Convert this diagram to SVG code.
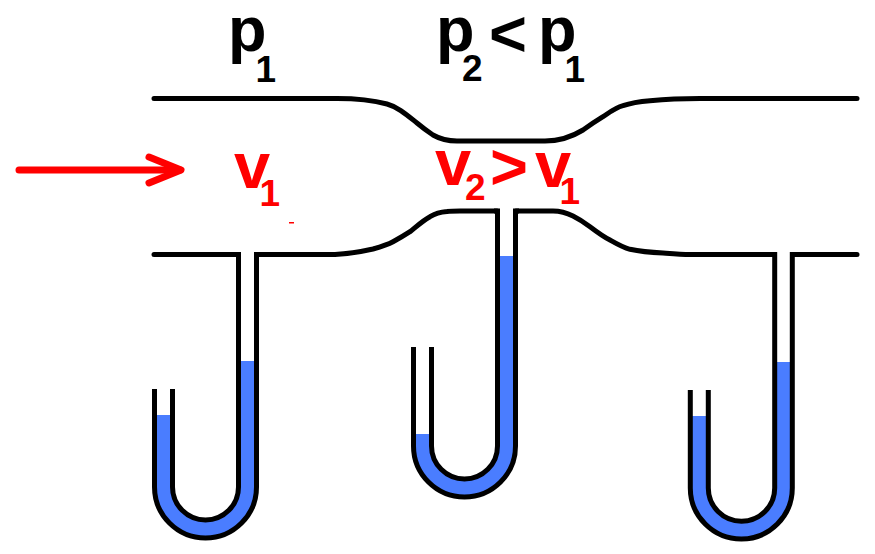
<svg xmlns="http://www.w3.org/2000/svg" width="875" height="554" viewBox="0 0 875 554">
<style>
.w{fill:#4a7dff;stroke:none}
.l{fill:none;stroke:#000;stroke-width:5;stroke-linecap:butt;stroke-linejoin:miter}
.c{fill:none;stroke:#000;stroke-width:5;stroke-linecap:round;stroke-linejoin:round}
.a{fill:none;stroke:#f00;stroke-width:7;stroke-linecap:round;stroke-linejoin:round}
text{font-family:"Liberation Sans",Arial,sans-serif;font-weight:700}
.k{fill:#000}.r{fill:#f00}
.b{font-size:65px}.p{font-size:63px}.s{font-size:37px}
</style>
<rect width="875" height="554" fill="#fff"/>
<g id="channel">
<path class="c" d="M154 98.500H337C355 98.500 372 100 387 104C398 107 407 115 417 123C423 128 427 131 433 135C440 139 448 141 457 141H545C557 141 570 138 583 130C590 125 596 121 603 116.700C610 112 616 107.500 623 105.700C632 102.500 640 101.500 650 100.700C668 99 685 98.500 700 98.500H857"/>
<path class="c" d="M154 254.500H238"/>
<path class="c" d="M257 254.500H335C348 254 362 251.500 373 249C380 247 387 245 393 241.700C400 238 405 235 410 231.700C417 226 423 220.500 430 216.700C436 213 441 212 447 211.500C451 211 455 211 460 211H497"/>
<path class="c" d="M516 211H553C560 211 567 213 573 216C580 219.500 585 223 590 226.700C597 232 603 236.500 610 240C617 244 623 247.500 630 249.300C640 251.500 651 252.500 663 253C672 253.700 681 254.500 690 254.500H774"/>
<path class="c" d="M793 254.500H857"/>
</g>
<g id="tube-1">
<path class="w" d="M156 415H171V487A34.500 34.500 0 0 0 240 487V361H255V487A49.500 49.500 0 0 1 156 487Z"/>
<path class="l" d="M154.500 389V487A51 51 0 0 0 256.500 487V254.500H260"/>
<path class="l" d="M172.500 389V487A33 33 0 0 0 238.500 487V254.500H235"/>
</g>
<g id="tube-2">
<path class="w" d="M415 434H430V446A34.500 34.500 0 0 0 499 446V256H514V446A49.500 49.500 0 0 1 415 446Z"/>
<path class="l" d="M413.500 347V446A51 51 0 0 0 515.500 446V211H519"/>
<path class="l" d="M431.500 347V446A33 33 0 0 0 497.500 446V211H494"/>
</g>
<g id="tube-3">
<path class="w" d="M692 416H707V488A34 34 0 0 0 775 488V362H791V488A49.500 49.500 0 0 1 692 488Z"/>
<path class="l" d="M690.300 390V488A51 51 0 0 0 792.300 488V254.500H796"/>
<path class="l" d="M708.300 390V488A33 33 0 0 0 774.700 488V254.500H771"/>
</g>
<g id="flow-arrow">
<path class="a" d="M19 170H180"/>
<path class="a" d="M149 157L181 170L149 183"/>
</g>
<g id="labels-pressure" class="k">
<text class="p" x="228" y="50.500">p</text>
<text class="s" x="255.500" y="82">1</text>
<text class="p" x="436" y="50.500">p</text>
<text class="s" x="462" y="81">2</text>
<text class="b" x="489" y="56">&lt;</text>
<text class="p" x="538" y="50.500">p</text>
<text class="s" x="564.500" y="82">1</text>
</g>
<g id="labels-velocity" class="r">
<text class="b" x="234" y="188">v</text>
<text class="s" x="259.500" y="205.500">1</text>
<text class="b" x="435" y="185">v</text>
<text class="s" x="465" y="200">2</text>
<text class="b" x="490" y="189">&gt;</text>
<text class="b" x="535" y="187">v</text>
<text class="s" x="559.500" y="204">1</text>
<rect x="289" y="222" width="5" height="1.500" fill="#f00"/>
</g>
</svg>
